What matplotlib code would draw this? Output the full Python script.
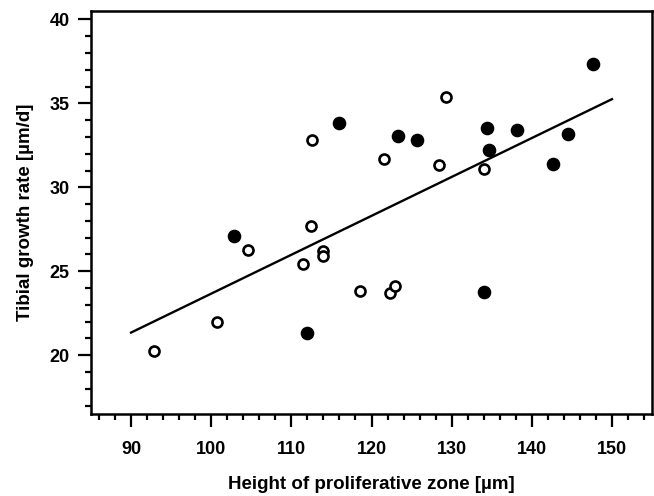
import numpy as np
import matplotlib
matplotlib.use('Agg')
from matplotlib import pyplot as plt
from matplotlib.ticker import MultipleLocator

# filled circles
filled_x = [102.8, 111.9, 115.9, 123.3, 125.7, 134.4, 134.6, 138.2, 144.5, 142.7, 147.7, 134.0]
filled_y = [27.1, 21.3, 33.85, 33.05, 32.8, 33.55, 32.25, 33.4, 33.2, 31.4, 37.35, 23.75]

# open circles
open_x = [92.9, 100.7, 104.6, 111.5, 112.6, 112.5, 113.9, 113.9, 121.5, 129.3, 128.4, 134.0, 118.6, 122.3, 122.9]
open_y = [20.25, 22.0, 26.25, 25.45, 32.8, 27.7, 26.2, 25.9, 31.7, 35.35, 31.3, 31.1, 23.8, 23.7, 24.1]

# regression line ends
fit_x = [90, 150]
fit_y = [21.35, 35.25]

plt.rcParams['font.family'] = ['Liberation Sans', 'DejaVu Sans']
plt.rcParams['font.weight'] = 'bold'

fig = plt.figure(figsize=(6.54, 4.96), dpi=100)
ax = fig.add_axes([91 / 654, 1 - 414 / 496, 561 / 654, 403 / 496])

ax.plot(fit_x, fit_y, color='black', lw=1.7, zorder=2)
ax.plot(open_x, open_y, 'o', ms=7.2, mfc='white', mec='black', mew=1.9, zorder=3)
ax.plot(filled_x, filled_y, 'o', ms=8.8, mfc='black', mec='black', zorder=3)

ax.set_xlim(85, 155)
ax.set_ylim(16.5, 40.5)
ax.xaxis.set_major_locator(MultipleLocator(10))
ax.xaxis.set_minor_locator(MultipleLocator(2))
ax.yaxis.set_major_locator(MultipleLocator(5))
ax.yaxis.set_minor_locator(MultipleLocator(1))
ax.tick_params(which='major', direction='out', length=9.5, width=1.6, labelsize=13)
ax.tick_params(axis='x', which='major', pad=10)
ax.tick_params(axis='y', which='major', pad=6)
ax.tick_params(which='minor', direction='out', length=4.5, width=1.6)
for s in ax.spines.values():
    s.set_linewidth(1.8)

ax.set_xlabel('Height of proliferative zone [µm]', fontsize=13.5, fontweight='bold', labelpad=13)
ax.set_ylabel('Tibial growth rate [µm/d]', fontsize=13.5, fontweight='bold', labelpad=11)

fig.savefig('out.png', dpi=100)
